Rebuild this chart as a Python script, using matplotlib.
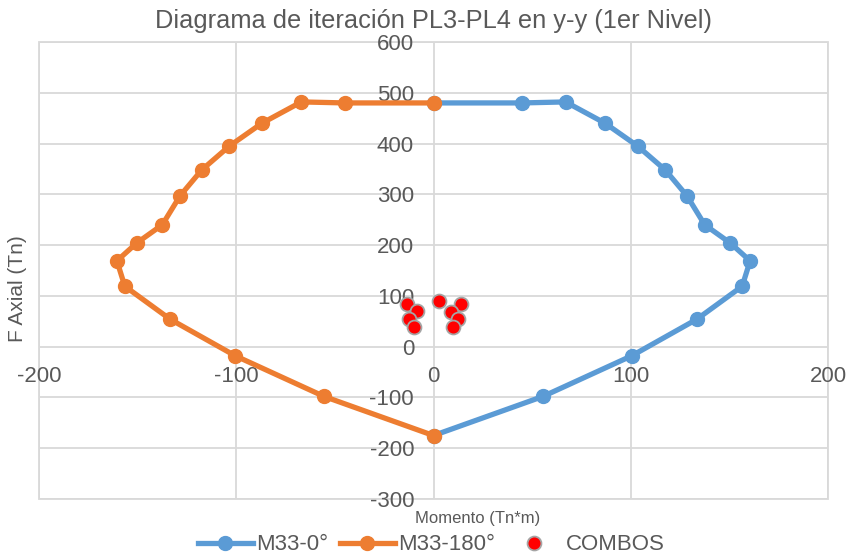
#!/usr/bin/env python3
"""Diagrama de interaccion PL3-PL4 (y-y, 1er nivel) con combinaciones de carga."""
import matplotlib
matplotlib.use("Agg")
import matplotlib.pyplot as plt
from matplotlib.lines import Line2D
from matplotlib.patches import Rectangle

# ── Datos ──────────────────────────────────────────────────────────────
# Curva M33-0° (momento Tn*m, axial Tn)
m0_mom = [0, 45, 67, 87, 103.5, 117.5, 128.5, 137.5, 150.5, 160.5, 156.5, 133.5, 100.5, 55.5, 0]
m0_ax = [480, 480, 482, 440, 395, 348, 297, 240, 204, 169, 119, 54, -18, -98, -175]

# Curva M33-180°
m180_mom = [0, -45, -67, -87, -103.5, -117.5, -128.5, -137.5, -150.5, -160.5, -156.5, -133.5, -100.5, -55.5, 0]
m180_ax = [480, 480, 482, 440, 395, 348, 297, 240, 204, 169, 119, 54, -18, -98, -175]

# Combinaciones de carga
combo_mom = [-13.5, -8.5, -12.6, -9.7, 3.0, 13.8, 8.7, 12.6, 10.1]
combo_ax = [84, 70, 54, 39, 89, 84, 69, 54, 39]

x_ticks = [-200, -100, 0, 100, 200]
y_ticks = [-300, -200, -100, 0, 100, 200, 300, 400, 500, 600]

# ── Estilo ─────────────────────────────────────────────────────────────
BLUE = "#5B9BD5"
ORANGE = "#ED7D31"
GRID = "#D9D9D9"
TEXT = "#595959"
FONT = ["Liberation Sans", "DejaVu Sans"]

plt.rcParams["font.family"] = FONT
plt.rcParams["axes.unicode_minus"] = False

fig = plt.figure(figsize=(8.54, 5.59), dpi=100)
ax = fig.add_axes([39 / 854, 1 - 499 / 559, 789 / 854, 457 / 559])

ax.plot(m0_mom, m0_ax, color=BLUE, lw=3.8, marker="o", ms=10, zorder=3,
        label="M33-0°", solid_joinstyle="round")
ax.plot(m180_mom, m180_ax, color=ORANGE, lw=3.8, marker="o", ms=10, zorder=4,
        label="M33-180°", solid_joinstyle="round")
ax.scatter(combo_mom, combo_ax, s=100, color="#FF0000", edgecolors="#A5A5A5",
           linewidths=1.3, zorder=5, label="COMBOS")

ax.set_xlim(-200, 200)
ax.set_ylim(-300, 600)
ax.set_xticks(x_ticks)
ax.set_yticks(y_ticks)

# ejes cruzando en el origen, sin linea propia
ax.spines["left"].set_position(("data", 0))
ax.spines["bottom"].set_position(("data", 0))
for sp in ax.spines.values():
    sp.set_color("none")
ax.tick_params(axis="both", length=0, labelsize=16, labelcolor=TEXT)
ax.tick_params(axis="y", pad=14)
ax.tick_params(axis="x", pad=14)

ax.grid(True, color=GRID, lw=1.3, zorder=0)
ax.set_axisbelow(True)
ax.add_patch(Rectangle((0, 0), 1, 1, transform=ax.transAxes, fill=False,
                       edgecolor=GRID, lw=1.3, clip_on=False, zorder=0))

fig.text(434 / 854, 1 - 21 / 559, "Diagrama de iteración PL3-PL4 en y-y (1er Nivel)",
         ha="center", va="center", fontsize=18.3, color=TEXT)
fig.text(478 / 854, 1 - 519 / 559, "Momento (Tn*m)", ha="center", va="center",
         fontsize=12, color=TEXT)
fig.text(18 / 854, 1 - 289 / 559, "F Axial (Tn)", ha="center", va="center",
         rotation=90, fontsize=15, color=TEXT)

handles = [
    Line2D([0], [0], color=BLUE, lw=3.8, marker="o", ms=10),
    Line2D([0], [0], color=ORANGE, lw=3.8, marker="o", ms=10),
    Line2D([0], [0], color="none", marker="o", ms=10, markerfacecolor="#FF0000",
           markeredgecolor="#A5A5A5", markeredgewidth=1.3),
]
fig.legend(handles, ["M33-0°", "M33-180°", "COMBOS"], loc="center",
           bbox_to_anchor=(431 / 854, 1 - 545 / 559), ncol=3, frameon=False,
           fontsize=16, handlelength=2.5, handletextpad=0.15, columnspacing=0.5,
           labelcolor=TEXT)

fig.savefig("out.png", dpi=100)
